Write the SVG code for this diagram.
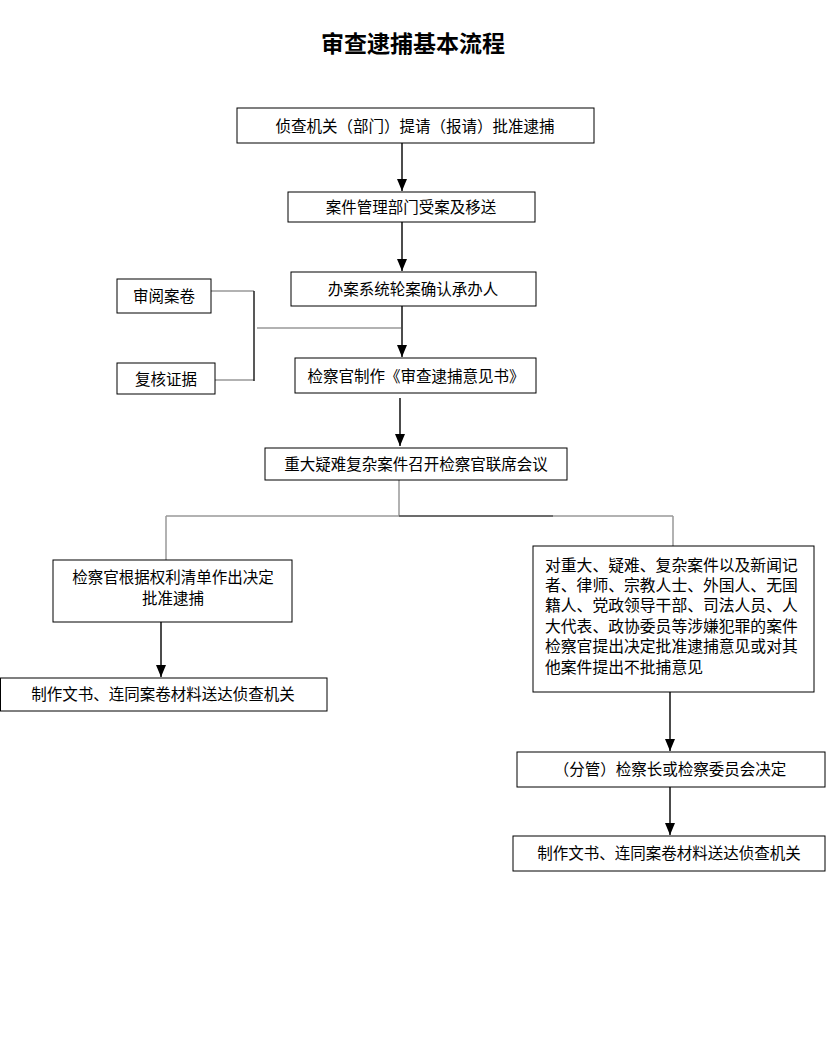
<svg xmlns="http://www.w3.org/2000/svg" width="826" height="1051" viewBox="0 0 826 1051">
<defs>
<marker id="ah" viewBox="0 0 12 10" refX="12" refY="5" markerWidth="12" markerHeight="10" markerUnits="userSpaceOnUse" orient="auto">
<path d="M0,0 L12,5 L0,10 Z" fill="#000"/>
</marker>
</defs>
<style>
.box{fill:#fff;stroke:#000;stroke-width:1}
.t{font-family:"Liberation Sans","Noto Sans CJK SC",sans-serif;font-size:15.5px;fill:#000;text-anchor:middle;dominant-baseline:central}
.tl{font-family:"Liberation Sans","Noto Sans CJK SC",sans-serif;font-size:15.8px;fill:#000;dominant-baseline:central}
.title{font-family:"Liberation Serif","Noto Sans CJK SC",serif;font-size:23px;font-weight:bold;fill:#000;text-anchor:middle}
.arr{stroke:#111;stroke-width:1.5;fill:none}
.g{stroke:#999;stroke-width:1.5;fill:none}
.d{stroke:#222;stroke-width:1.5;fill:none}
</style>
<rect width="826" height="1051" fill="#fff"/>
<text class="title" x="413" y="52">审查逮捕基本流程</text>

<g id="connectors">
<line class="arr" x1="402" y1="143" x2="402" y2="191" marker-end="url(#ah)"/>
<line class="arr" x1="402" y1="222" x2="402" y2="271" marker-end="url(#ah)"/>
<line class="g" x1="211" y1="291" x2="254" y2="291"/>
<line class="g" x1="215" y1="380" x2="254" y2="380"/>
<line class="d" x1="254" y1="291" x2="254" y2="381"/>
<line class="g" x1="257" y1="328" x2="401" y2="328"/>
<line class="arr" x1="402" y1="306" x2="402" y2="357" marker-end="url(#ah)"/>
<line class="arr" x1="400" y1="398" x2="400" y2="446" marker-end="url(#ah)"/>
<line class="g" x1="399" y1="480" x2="399" y2="516"/>
<line class="g" x1="166" y1="516" x2="673" y2="516"/>
<line stroke="#555" stroke-width="1.5" x1="399" y1="516" x2="553" y2="516"/>
<line class="g" x1="166" y1="516" x2="166" y2="560"/>
<line class="g" x1="673" y1="516" x2="673" y2="546"/>
<line class="arr" x1="161" y1="622" x2="161" y2="677" marker-end="url(#ah)"/>
<line class="arr" x1="670" y1="692" x2="670" y2="751" marker-end="url(#ah)"/>
<line class="arr" x1="670" y1="787" x2="670" y2="835" marker-end="url(#ah)"/>
</g>

<g id="n1"><rect class="box" x="237" y="108" width="357" height="35"/><text class="t" x="415" y="126">侦查机关（部门）提请（报请）批准逮捕</text></g>
<g id="n2"><rect class="box" x="288" y="192" width="247" height="30"/><text class="t" x="411" y="207">案件管理部门受案及移送</text></g>
<g id="n3"><rect class="box" x="291" y="272" width="245" height="34"/><text class="t" x="413" y="289">办案系统轮案确认承办人</text></g>
<g id="n4"><rect class="box" x="117" y="279" width="94" height="34"/><text class="t" x="164" y="296">审阅案卷</text></g>
<g id="n5"><rect class="box" x="117" y="363" width="98" height="31"/><text class="t" x="166" y="379">复核证据</text></g>
<g id="n6"><rect class="box" x="295" y="358" width="241" height="35"/><text class="t" x="416" y="376">检察官制作《审查逮捕意见书》</text></g>
<g id="n7"><rect class="box" x="265" y="448" width="302" height="32"/><text class="t" x="416" y="464">重大疑难复杂案件召开检察官联席会议</text></g>
<g id="n8"><rect class="box" x="53" y="560" width="239" height="62"/><text class="t" x="173" y="577">检察官根据权利清单作出决定</text><text class="t" x="173" y="598">批准逮捕</text></g>
<g id="n9"><rect class="box" x="0.5" y="678" width="326.5" height="33"/><text class="t" x="163" y="694">制作文书、连同案卷材料送达侦查机关</text></g>
<g id="n10"><rect class="box" x="533" y="546" width="281" height="146"/>
<text class="tl" x="545" y="565">对重大、疑难、复杂案件以及新闻记</text>
<text class="tl" x="545" y="585">者、律师、宗教人士、外国人、无国</text>
<text class="tl" x="545" y="605">籍人、党政领导干部、司法人员、人</text>
<text class="tl" x="545" y="626">大代表、政协委员等涉嫌犯罪的案件</text>
<text class="tl" x="545" y="646">检察官提出决定批准逮捕意见或对其</text>
<text class="tl" x="545" y="667">他案件提出不批捕意见</text></g>
<g id="n11"><rect class="box" x="517" y="752" width="308" height="35"/><text class="t" x="670" y="769">（分管）检察长或检察委员会决定</text></g>
<g id="n12"><rect class="box" x="513" y="836" width="312" height="35"/><text class="t" x="669" y="853">制作文书、连同案卷材料送达侦查机关</text></g>
</svg>
